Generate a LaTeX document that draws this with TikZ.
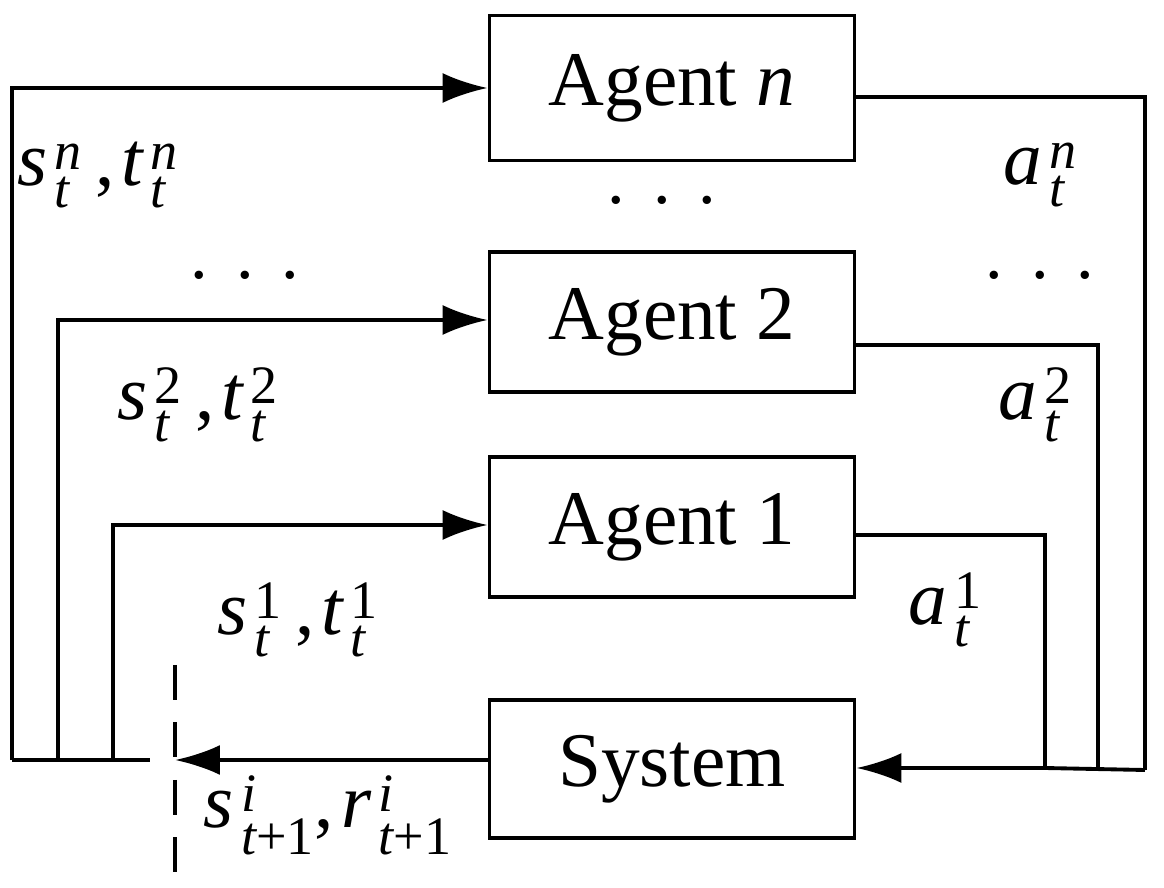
\documentclass[tikz,border=0pt]{standalone}
\usepackage{amsmath}
\usepackage{fontspec}
\setmainfont{Liberation Serif}
\usetikzlibrary{arrows.meta}
\newcommand{\vi}[1]{\textit{#1}}
\begin{document}
\begin{tikzpicture}[x=0.02cm,y=-0.02cm,
  box/.style={draw,line width=2.2pt,minimum width=7.3cm,minimum height=2.8cm,font=\fontsize{44}{50}\selectfont},
  ln/.style={line width=2.2pt},
  arr/.style={ln,-{Latex[length=0.9cm,width=0.6cm]}},
  lab/.style={font=\fontsize{44}{50}\selectfont},
  dots/.style={font=\fontsize{40}{44}\selectfont}]
\useasboundingbox (0,0) rectangle (1164,888);
\node[box,minimum height=2.9cm] (an) at (672,88) {Agent \vi{n}};
\node[box] (a2) at (672,322) {Agent 2};
\node[box] (a1) at (672,527) {Agent 1};
\node[box,minimum height=2.76cm] (sys) at (672,769) {System};
% left feedback
\coordinate (bl) at (12,760);
\coordinate (br) at (150,760);
\coordinate (dt) at (175,665);
\coordinate (db) at (175,880);
\coordinate (dm) at (175,760);
\draw[ln] (bl) -- (br);
\draw[ln,dashed,dash pattern=on 0.7cm off 0.45cm] (dt) -- (db);
\draw[arr] (sys.west |- dm) -- (dm);
\draw[arr] (bl) |- (an.west |- 0,88);
\draw[arr] (58,760) |- (a2.west |- 0,320);
\draw[arr] (113,760) |- (a1.west |- 0,525);
% right
\coordinate (rn) at (1145,770);
\draw[ln] (an.east |- 0,97) -| (rn);
\draw[ln] (a2.east |- 0,345) -| (1098,768);
\draw[ln] (a1.east |- 0,535) -| (1045,768);
\draw[arr] (rn) -- (1045,768) -- (sys.east |- 0,768);
% labels
\node[lab] (ln1) at (98,175) {$\vi{s}\,^{\vi{n}}_{\vi{t}}\;\textup{,}\,\vi{t}\,^{\vi{n}}_{\vi{t}}$};
\node[lab] (ln2) at (198,405) {$\vi{s}\,^{\textup{2}}_{\vi{t}}\;\textup{,}\,\vi{t}\,^{\textup{2}}_{\vi{t}}$};
\node[lab] (ln3) at (298,620) {$\vi{s}\,^{\textup{1}}_{\vi{t}}\;\textup{,}\,\vi{t}\,^{\textup{1}}_{\vi{t}}$};
\node[lab] (ln4) at (328,815) {$\vi{s}\,^{\vi{i}}_{\vi{t}\textup{+1}}\textup{,}\,\vi{r}\,^{\vi{i}}_{\vi{t}\textup{+1}}$};
\node[lab] (la1) at (1040,175) {$\vi{a}\,^{\vi{n}}_{\vi{t}}$};
\node[lab] (la2) at (1035,405) {$\vi{a}\,^{\textup{2}}_{\vi{t}}$};
\node[lab] (la3) at (945,610) {$\vi{a}\,^{\textup{1}}_{\vi{t}}$};
\node[dots] (d1) at (662,200) {.\hspace{0.4em}.\hspace{0.4em}.};
\node[dots] (d2) at (245,275) {.\hspace{0.4em}.\hspace{0.4em}.};
\node[dots] (d3) at (1040,275) {.\hspace{0.4em}.\hspace{0.4em}.};
\end{tikzpicture}
\end{document}
